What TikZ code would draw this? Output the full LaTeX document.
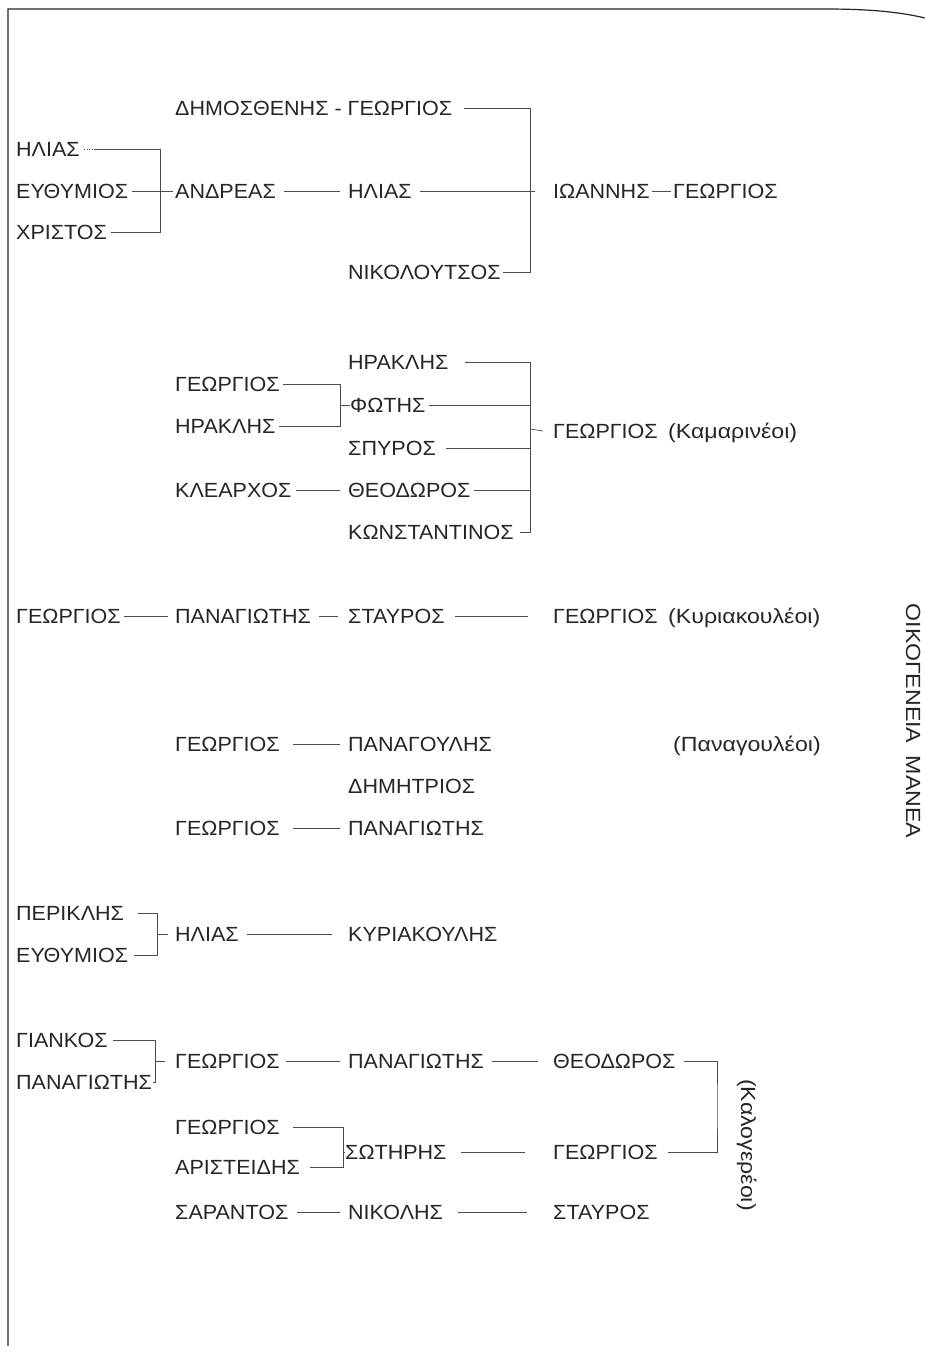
\documentclass[tikz,border=0pt]{standalone}
\usepackage{fontspec}
\setmainfont[FakeStretch=1.05]{Liberation Sans}
\newfontfamily\widefont[FakeStretch=1.13]{Liberation Sans}
\usetikzlibrary{calc}
\begin{document}
\begin{tikzpicture}[x=1pt,y=-1pt,
  nm/.style={anchor=west, inner sep=0pt, text height=14pt, text depth=0pt,
    font=\fontsize{20.5}{24}\selectfont, text=black!85},
  lab/.style={nm, font=\widefont\fontsize{20.5}{24}\selectfont},
  rot/.style={lab, anchor=center, rotate=-90},
  ln/.style={draw=black!70, line width=0.7pt}]
\useasboundingbox (0,0) rectangle (925,1346);
\fill[white] (0,0) rectangle (925,1346);
% frame
\draw[line width=1.2pt, black!85] (8,1346) -- (8,9) -- (825,9) .. controls (870,9) and (900,12) .. (925,18);

% ---------- group 1
\node[nm] (dg) at (175,108) {ΔΗΜΟΣΘΕΝΗΣ - ΓΕΩΡΓΙΟΣ};
\node[nm] (ha) at (16,149) {ΗΛΙΑΣ};
\node[nm] (ea) at (16,191) {ΕΥΘΥΜΙΟΣ};
\node[nm] (xa) at (16,232) {ΧΡΙΣΤΟΣ};
\node[nm] (an) at (175,191) {ΑΝΔΡΕΑΣ};
\node[nm] (hb) at (348,191) {ΗΛΙΑΣ};
\node[nm] (ni) at (348,272) {ΝΙΚΟΛΟΥΤΣΟΣ};
\node[nm] (io) at (553,191) {ΙΩΑΝΝΗΣ};
\node[nm] (gi) at (673,191) {ΓΕΩΡΓΙΟΣ};
\coordinate (j1) at (160,191);
\coordinate (j2) at (530,191);
\draw[ln, dotted] ([xshift=4pt]ha.east) -- ([xshift=14pt]ha.east);
\draw[ln] ([xshift=14pt]ha.east) -| (j1);
\draw[ln] ([xshift=4pt]xa.east) -| (j1);
\draw[ln] ([xshift=4pt]ea.east) -- ([xshift=-2pt]an.west);
\draw[ln] ([xshift=8pt]an.east) -- ([xshift=-8pt]hb.west);
\draw[ln] ([xshift=12pt]dg.east) -| (j2);
\draw[ln] ([xshift=2pt]ni.east) -| (j2);
\draw[ln] ([xshift=8pt]hb.east) -- ([xshift=-18pt]io.west);
\draw[ln] ([xshift=2pt]io.east) -- ([xshift=-2pt]gi.west);

% ---------- group 2
\node[nm] (hr) at (348,362) {ΗΡΑΚΛΗΣ};
\node[nm] (gb) at (175,384) {ΓΕΩΡΓΙΟΣ};
\node[nm] (fo) at (350,405) {ΦΩΤΗΣ};
\node[nm] (hc) at (175,426) {ΗΡΑΚΛΗΣ};
\node[nm] (sp) at (348,448) {ΣΠΥΡΟΣ};
\node[nm] (kl) at (175,490) {ΚΛΕΑΡΧΟΣ};
\node[nm] (th) at (348,490) {ΘΕΟΔΩΡΟΣ};
\node[nm] (ko) at (348,532) {ΚΩΝΣΤΑΝΤΙΝΟΣ};
\node[nm] (gc) at (553,431) {ΓΕΩΡΓΙΟΣ};
\node[lab] (kam) at (668,431) {(Καμαρινέοι)};
\coordinate (j3) at (340,405);
\coordinate (j4) at (530,429);
\draw[ln] ([xshift=3pt]gb.east) -| (j3);
\draw[ln] ([xshift=3pt]hc.east) -| (j3);
\draw[ln] (j3) -- (fo.west);
\draw[ln] ([xshift=16pt]hr.east) -| (j4);
\draw[ln] ([xshift=6pt]ko.east) -| (j4);
\draw[ln] ([xshift=3pt]fo.east) -- (fo.east -| j4);
\draw[ln] ([xshift=10pt]sp.east) -- (sp.east -| j4);
\draw[ln] ([xshift=3pt]th.east) -- (th.east -| j4);
\draw[ln] ([xshift=4pt]kl.east) -- ([xshift=-8pt]th.west);
\draw[ln] (j4) -- ([xshift=-10pt]gc.west);

% ---------- group 3
\node[nm] (ga) at (16,616) {ΓΕΩΡΓΙΟΣ};
\node[nm] (pa) at (175,616) {ΠΑΝΑΓΙΩΤΗΣ};
\node[nm] (st) at (348,616) {ΣΤΑΥΡΟΣ};
\node[nm] (gd) at (553,616) {ΓΕΩΡΓΙΟΣ};
\node[lab] (kyr) at (668,616) {(Κυριακουλέοι)};
\draw[ln] ([xshift=3pt]ga.east) -- ([xshift=-7pt]pa.west);
\draw[ln] ([xshift=8pt]pa.east) -- ([xshift=-10pt]st.west);
\draw[ln] ([xshift=10pt]st.east) -- ([xshift=-25pt]gd.west);

% ---------- group 4
\node[nm] (ge) at (175,744) {ΓΕΩΡΓΙΟΣ};
\node[nm] (pg) at (348,744) {ΠΑΝΑΓΟΥΛΗΣ};
\node[lab] (pan) at (673,744) {(Παναγουλέοι)};
\node[nm] (dm) at (348,786) {ΔΗΜΗΤΡΙΟΣ};
\node[nm] (gf) at (175,828) {ΓΕΩΡΓΙΟΣ};
\node[nm] (pb) at (348,828) {ΠΑΝΑΓΙΩΤΗΣ};
\draw[ln] ([xshift=13pt]ge.east) -- ([xshift=-8pt]pg.west);
\draw[ln] ([xshift=13pt]gf.east) -- ([xshift=-8pt]pb.west);

% ---------- group 5
\node[nm] (pe) at (16,913) {ΠΕΡΙΚΛΗΣ};
\node[nm] (eb) at (16,955) {ΕΥΘΥΜΙΟΣ};
\node[nm] (hd) at (175,934) {ΗΛΙΑΣ};
\node[nm] (ky) at (348,934) {ΚΥΡΙΑΚΟΥΛΗΣ};
\coordinate (j5) at (157,934);
\draw[ln] ([xshift=14pt]pe.east) -| (j5);
\draw[ln] ([xshift=6pt]eb.east) -| (j5);
\draw[ln] (j5) -- ([xshift=-7pt]hd.west);
\draw[ln] ([xshift=8pt]hd.east) -- ([xshift=-16pt]ky.west);

% ---------- group 6
\node[nm] (gk) at (16,1040) {ΓΙΑΝΚΟΣ};
\node[nm] (pc) at (16,1082) {ΠΑΝΑΓΙΩΤΗΣ};
\node[nm] (gg) at (175,1061) {ΓΕΩΡΓΙΟΣ};
\node[nm] (pd) at (348,1061) {ΠΑΝΑΓΙΩΤΗΣ};
\node[nm] (tb) at (553,1061) {ΘΕΟΔΩΡΟΣ};
\node[nm] (gh2) at (175,1127) {ΓΕΩΡΓΙΟΣ};
\node[nm] (so) at (345,1152) {ΣΩΤΗΡΗΣ};
\node[nm] (ar) at (175,1167) {ΑΡΙΣΤΕΙΔΗΣ};
\node[nm] (gh) at (553,1152) {ΓΕΩΡΓΙΟΣ};
\node[nm] (sa) at (175,1212) {ΣΑΡΑΝΤΟΣ};
\node[nm] (nk) at (348,1212) {ΝΙΚΟΛΗΣ};
\node[nm] (sb) at (553,1212) {ΣΤΑΥΡΟΣ};
\coordinate (j6) at (155,1061);
\coordinate (j7) at (717,1106);
\coordinate (j8) at (343,1152);
\draw[ln] ([xshift=5pt]gk.east) -| (j6);
\draw[ln] ([xshift=1pt]pc.east) -| (j6);
\draw[ln] (j6) -- ([xshift=-10pt]gg.west);
\draw[ln] ([xshift=6pt]gg.east) -- ([xshift=-8pt]pd.west);
\draw[ln] ([xshift=8pt]pd.east) -- ([xshift=-15pt]tb.west);
\draw[ln] ([xshift=8pt]tb.east) -| (j7) |- ([xshift=10pt]gh.east);
\draw[ln] ([xshift=13pt]gh2.east) -| (j8);
\draw[ln] ([xshift=10pt]ar.east) -| (j8);
\draw[ln] (j8) -- (so.west);
\draw[ln] ([xshift=14pt]so.east) -- ([xshift=-28pt]gh.west);
\draw[ln] ([xshift=8pt]sa.east) -- ([xshift=-8pt]nk.west);
\draw[ln] ([xshift=15pt]nk.east) -- ([xshift=-26pt]sb.west);

% ---------- rotated labels
\node[rot] (kal) at (748,1145) {(Καλογερέοι)};
\node[rot] (om) at (913,721) {ΟΙΚΟΓΕΝΕΙΑ\hspace{0.6em}ΜΑΝΕΑ};
\end{tikzpicture}
\end{document}
